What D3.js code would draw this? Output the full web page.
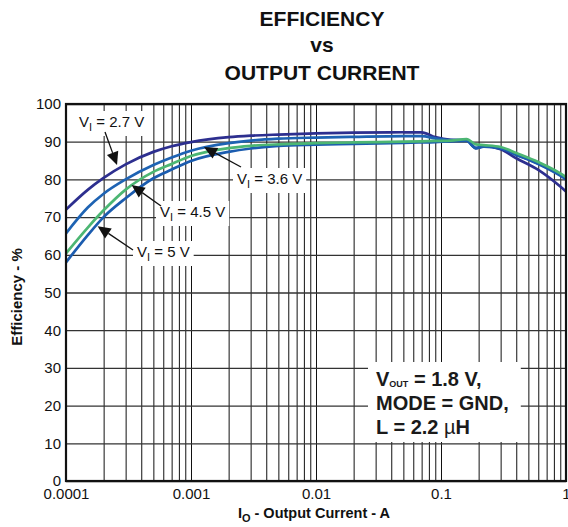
<!DOCTYPE html>
<html><head><meta charset="utf-8">
<script src="https://cdn.jsdelivr.net/npm/d3@7"></script>
<style>
body{margin:0;background:#fff}
svg{display:block;font-family:"Liberation Sans",Arial,Helvetica,sans-serif}
</style>
</head><body>
<svg id="chart" width="568" height="527"></svg>
<script>
// ---- data ----
const currents = [0.0001, 0.00015, 0.0002, 0.0003, 0.0005, 0.0007, 0.001, 0.002, 0.003, 0.005, 0.01, 0.02, 0.05, 0.07, 0.09, 0.12, 0.16, 0.19, 0.22, 0.3, 0.4, 0.6, 0.9, 1];
const eff27 = [72.0, 77.3, 80.4, 84.0, 87.3, 88.8, 89.9, 91.2, 91.6, 91.9, 92.2, 92.4, 92.5, 92.5, 91.2, 90.5, 90.4, 88.3, 88.8, 88.0, 85.6, 82.5, 78.1, 76.8];
const eff36 = [65.7, 72.6, 76.2, 80.0, 83.8, 85.8, 87.6, 89.6, 90.3, 90.8, 91.1, 91.3, 91.5, 91.5, 90.9, 90.4, 90.4, 88.3, 88.8, 88.3, 86.6, 84.2, 81.2, 80.3];
const eff45 = [60.4, 67.3, 71.8, 77.3, 82.0, 84.1, 86.2, 88.3, 88.9, 89.3, 89.6, 89.8, 90.0, 90.1, 90.2, 90.3, 90.7, 89.3, 89.1, 88.6, 87.0, 84.6, 81.6, 80.6];
const eff50 = [58.0, 65.3, 70.0, 75.0, 80.3, 82.6, 84.9, 87.3, 88.2, 88.9, 89.2, 89.4, 89.7, 89.8, 89.9, 90.1, 90.2, 88.3, 88.7, 88.2, 86.5, 84.1, 81.0, 80.0];
const seriesNames = ["2.7 V", "3.6 V", "5 V", "4.5 V"];
const xTickValues = [0.0001, 0.001, 0.01, 0.1, 1];
const xTickLabels = ["0.0001", "0.001", "0.01", "0.1", "1"];
const yTickValues = [0, 10, 20, 30, 40, 50, 60, 70, 80, 90, 100];
// annotation arrow tips in data units [current, efficiency]
const annTips = [[0.000256, 83.8], [0.00127, 88.6], [0.000335, 78.5], [0.000179, 67.6]];
const annLabels = ["2.7 V", "3.6 V", "4.5 V", "5 V"];

// ---- layout ----
const svg = d3.select("#chart");
const L = 66, R = 566, T = 104, B = 481;
const x = d3.scaleLog().domain([0.0001, 1]).range([L, R]);
const y = d3.scaleLinear().domain([0, 100]).range([B, T]);

// title
const title = svg.append("g").attr("font-weight", "bold").attr("font-size", 21).attr("text-anchor", "middle").attr("fill", "#111");
title.append("text").attr("x", 322).attr("y", 26).text("EFFICIENCY");
title.append("text").attr("x", 322).attr("y", 52).text("vs");
title.append("text").attr("x", 322).attr("y", 80).text("OUTPUT CURRENT");

// grid values
const gridX = [];
for (let d = 0.0001; d < 0.99; d *= 10) for (let k = 1; k <= 9; k++) gridX.push(d * k);
gridX.push(1);

const gx = svg.append("g").attr("transform", `translate(0,${B})`)
  .call(d3.axisBottom(x).tickValues(gridX).tickSize(-(B - T)).tickFormat(""));
gx.select(".domain").remove();
gx.selectAll("line").attr("stroke", "#111").attr("stroke-width", 1);

const gy = svg.append("g").attr("transform", `translate(${L},0)`)
  .call(d3.axisLeft(y).tickValues(yTickValues).tickSize(-(R - L)).tickFormat(""));
gy.select(".domain").remove();
gy.selectAll("line").attr("stroke", "#333").attr("stroke-width", 1.3);

// curves
const line = d3.line().x(d => x(d[0])).y(d => y(d[1])).curve(d3.curveMonotoneX);
const series = [
  {vals: eff27, color: "#2d2f8f"},
  {vals: eff36, color: "#1e63b3"},
  {vals: eff50, color: "#1b5caf"},
  {vals: eff45, color: "#4cb673"}
];
const clip = svg.append("clipPath").attr("id", "plotclip").append("rect")
  .attr("x", L).attr("y", T).attr("width", R - L).attr("height", B - T);
svg.append("g").attr("clip-path", "url(#plotclip)").selectAll("path").data(series).join("path")
  .attr("d", s => line(currents.map((c, i) => [c, s.vals[i]])))
  .attr("fill", "none").attr("stroke", s => s.color).attr("stroke-width", 2.7)
  .attr("stroke-linejoin", "round");

// annotations
const annStarts = [[105, 132], [241, 167], [161, 206], [133, 250]];
const annTextPos = [[79, 127], [237, 184], [160, 217], [137, 257]];
const annG = svg.append("g");
annLabels.forEach((lab, i) => {
  const g = annG.append("g");
  const t = g.append("text").attr("x", annTextPos[i][0]).attr("y", annTextPos[i][1])
    .attr("font-size", 15).attr("fill", "#111");
  t.append("tspan").text("V");
  t.append("tspan").attr("font-size", 11).attr("dy", 4).text("I");
  t.append("tspan").attr("dy", -4).text(" = " + lab);
  const bb = t.node().getBBox();
  g.insert("rect", "text").attr("x", bb.x - 4).attr("y", bb.y - 2).attr("width", bb.width + 8).attr("height", bb.height + 5).attr("fill", "#fff");
  // arrow
  const tx = x(annTips[i][0]), ty = y(annTips[i][1]);
  const [sx, sy] = annStarts[i];
  const dx = tx - sx, dy = ty - sy, len = Math.hypot(dx, dy);
  const ux = dx / len, uy = dy / len;
  const hl = 13, hw = 6;
  const bx = tx - ux * hl, by = ty - uy * hl;
  annG.append("line").attr("x1", sx).attr("y1", sy).attr("x2", bx).attr("y2", by)
    .attr("stroke", "#111").attr("stroke-width", 1.3);
  annG.append("path")
    .attr("d", `M${tx},${ty}L${bx - uy * hw},${by + ux * hw}L${bx + uy * hw},${by - ux * hw}Z`)
    .attr("fill", "#111");
});

// conditions box
const cg = svg.append("g");
const ct = cg.append("text").attr("font-size", 20).attr("font-weight", "bold").attr("fill", "#1a1a1a");
const l1 = ct.append("tspan").attr("x", 376).attr("y", 386);
l1.append("tspan").text("V");
l1.append("tspan").attr("font-size", 9).attr("dy", 1).text("OUT");
l1.append("tspan").attr("dy", -1).text(" = 1.8 V,");
ct.append("tspan").attr("x", 376).attr("y", 410).text("MODE = GND,");
const l3 = ct.append("tspan").attr("x", 376).attr("y", 434);
l3.append("tspan").text("L = 2.2 ");
l3.append("tspan").attr("font-weight", "normal").text("\u00b5");
l3.append("tspan").text("H");
const cbb = ct.node().getBBox();
cg.insert("rect", "text").attr("x", cbb.x - 8).attr("y", cbb.y - 6).attr("width", cbb.width + 20).attr("height", cbb.height + 10).attr("fill", "#fff");

// frame
svg.append("rect").attr("x", L).attr("y", T).attr("width", R - L).attr("height", B - T)
  .attr("fill", "none").attr("stroke", "#111").attr("stroke-width", 2.2);

// tick labels
const xa = svg.append("g").attr("transform", `translate(0,${B})`)
  .call(d3.axisBottom(x).tickValues(xTickValues).tickSize(0).tickPadding(7).tickFormat((d, i) => xTickLabels[i]));
xa.select(".domain").remove();
xa.selectAll("text").attr("font-size", 15).attr("font-family", null).attr("fill", "#111");

const ya = svg.append("g").attr("transform", `translate(${L},0)`)
  .call(d3.axisLeft(y).tickValues(yTickValues).tickSize(0).tickPadding(5).tickFormat(d3.format("d")));
ya.select(".domain").remove();
ya.selectAll("text").attr("font-size", 15).attr("font-family", null).attr("fill", "#111");

// axis titles
const xt = svg.append("text").attr("x", 314).attr("y", 518).attr("text-anchor", "middle")
  .attr("font-size", 14.5).attr("font-weight", "bold").attr("fill", "#111");
xt.append("tspan").text("I");
xt.append("tspan").attr("font-size", 11).attr("dy", 4).text("O");
xt.append("tspan").attr("dy", -4).text(" - Output Current - A");

svg.append("text").attr("transform", "translate(22,297) rotate(-90)").attr("text-anchor", "middle")
  .attr("font-size", 15).attr("font-weight", "bold").attr("fill", "#111").text("Efficiency - %");
</script>
</body></html>
